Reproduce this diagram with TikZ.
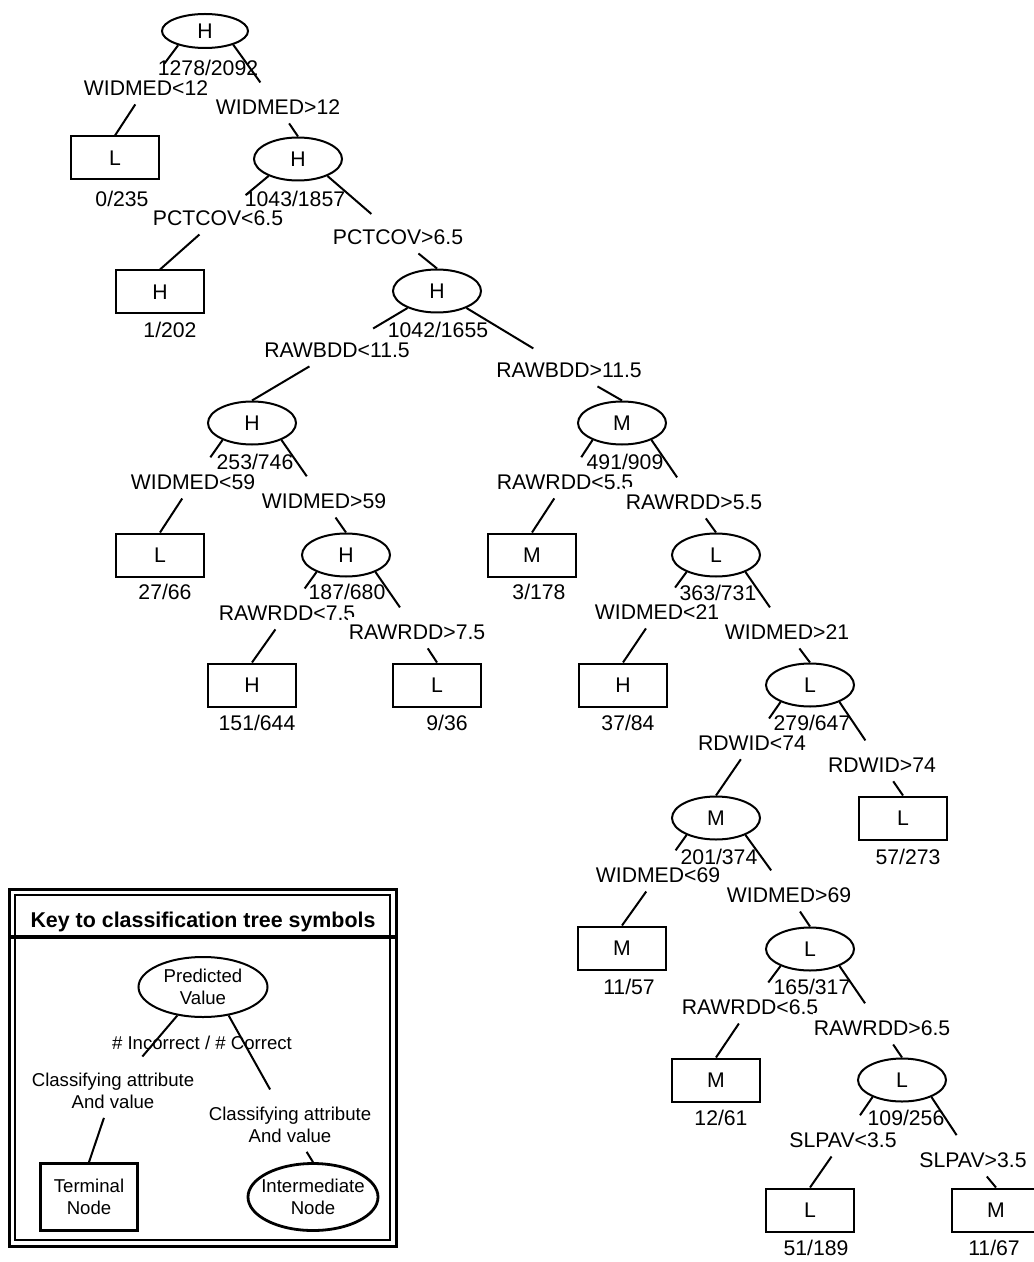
\documentclass[tikz,border=0pt]{standalone}
\usepackage{fontspec}
\setmainfont{Liberation Sans}
\usetikzlibrary{shapes.geometric}

\begin{document}
\begin{tikzpicture}[x=0.5pt,y=-0.5pt,line width=1pt,
  font=\fontsize{10.6}{12}\selectfont,
  keyfont/.style={font=\fontsize{9.3}{11}\selectfont},
  leafnode/.style={draw,minimum width=44pt,minimum height=21.5pt,inner sep=0pt},
  splitnode/.style={draw,ellipse,minimum width=44pt,minimum height=21.5pt,inner sep=0pt},
  cond/.style={fill=white,inner xsep=0.5pt,inner ysep=4pt},
  cnt/.style={inner sep=0pt},
  stub/.style={shorten >=5pt}]
\useasboundingbox (0,0) rectangle (1033,1262);
% tree nodes
\node[splitnode,minimum width=43pt,minimum height=17pt] (t0) at (205,31) {H};
\node[leafnode]  (t1)  at (115,158)  {L};
\node[splitnode] (t2)  at (298,159)  {H};
\node[leafnode]  (t3)  at (160,292)  {H};
\node[splitnode] (t4)  at (437,291)  {H};
\node[splitnode] (t5)  at (252,423)  {H};
\node[splitnode] (t6)  at (622,423)  {M};
\node[leafnode]  (t7)  at (160,555)  {L};
\node[splitnode] (t8)  at (346,555)  {H};
\node[leafnode]  (t9)  at (532,555)  {M};
\node[splitnode] (t10) at (716,555)  {L};
\node[leafnode]  (t11) at (252,685)  {H};
\node[leafnode]  (t12) at (437,685)  {L};
\node[leafnode]  (t13) at (623,685)  {H};
\node[splitnode] (t14) at (810,685)  {L};
\node[splitnode] (t15) at (716,818)  {M};
\node[leafnode]  (t16) at (903,818)  {L};
\node[leafnode]  (t17) at (622,948)  {M};
\node[splitnode] (t18) at (810,949)  {L};
\node[leafnode]  (t19) at (716,1080) {M};
\node[splitnode] (t20) at (902,1080) {L};
\node[leafnode]  (t21) at (810,1210) {L};
\node[leafnode]  (t22) at (996,1210) {M};
% split rules (right one drawn over left one)
\node[cond] (s0l)  at (146,88)   {WIDMED<12};
\node[cond] (s0r)  at (278,107)  {WIDMED>12};
\node[cond] (s2l)  at (218,218)  {PCTCOV<6.5};
\node[cond] (s2r)  at (398,237)  {PCTCOV>6.5};
\node[cond] (s4l)  at (337,350)  {RAWBDD<11.5};
\node[cond] (s4r)  at (569,370)  {RAWBDD>11.5};
\node[cond] (s5l)  at (193,482)  {WIDMED<59};
\node[cond] (s5r)  at (324,501)  {WIDMED>59};
\node[cond] (s6l)  at (565,482)  {RAWRDD<5.5};
\node[cond] (s6r)  at (694,502)  {RAWRDD>5.5};
\node[cond] (s8l)  at (287,613)  {RAWRDD<7.5};
\node[cond] (s8r)  at (417,632)  {RAWRDD>7.5};
\node[cond] (s10l) at (657,612)  {WIDMED<21};
\node[cond] (s10r) at (787,632)  {WIDMED>21};
\node[cond] (s14l) at (752,743)  {RDWID<74};
\node[cond] (s14r) at (882,765)  {RDWID>74};
\node[cond] (s15l) at (658,875)  {WIDMED<69};
\node[cond] (s15r) at (789,895)  {WIDMED>69};
\node[cond] (s18l) at (750,1007) {RAWRDD<6.5};
\node[cond] (s18r) at (882,1028) {RAWRDD>6.5};
\node[cond] (s20l) at (843,1140) {SLPAV<3.5};
\node[cond] (s20r) at (973,1160) {SLPAV>3.5};
% incorrect/correct counts
\node[cnt] (k0)  at (208,68)   {1278/2092};
\node[cnt] (k1)  at (122,199)  {0/235};
\node[cnt] (k2)  at (295,199)  {1043/1857};
\node[cnt] (k3)  at (170,330)  {1/202};
\node[cnt] (k4)  at (438,330)  {1042/1655};
\node[cnt] (k5)  at (255,462)  {253/746};
\node[cnt] (k6)  at (625,462)  {491/909};
\node[cnt] (k7)  at (165,592)  {27/66};
\node[cnt] (k8)  at (347,592)  {187/680};
\node[cnt] (k9)  at (539,592)  {3/178};
\node[cnt] (k10) at (718,593)  {363/731};
\node[cnt] (k11) at (257,723)  {151/644};
\node[cnt] (k12) at (447,723)  {9/36};
\node[cnt] (k13) at (628,723)  {37/84};
\node[cnt] (k14) at (812,723)  {279/647};
\node[cnt] (k15) at (719,857)  {201/374};
\node[cnt] (k16) at (908,857)  {57/273};
\node[cnt] (k17) at (629,987)  {11/57};
\node[cnt] (k18) at (812,987)  {165/317};
\node[cnt] (k19) at (721,1118) {12/61};
\node[cnt] (k20) at (906,1118) {109/256};
\node[cnt] (k21) at (816,1248) {51/189};
\node[cnt] (k22) at (994,1248) {11/67};
% branches: parent -> rule -> child
\draw[stub] (t0.-152) -- (s0l);  \draw[stub] (t0.-26) -- (s0r);
\draw (s0l) -- (t1.north);       \draw (s0r) -- (t2.north);
\draw[stub] (t2.-150) -- (s2l);  \draw[stub] (t2.-30) -- (s2r);
\draw (s2l) -- (t3.north);       \draw (s2r) -- (t4.north);
\draw[stub] (t4.-150) -- (s4l);  \draw[stub] (t4.-30) -- (s4r);
\draw (s4l) -- (t5.north);       \draw (s4r) -- (t6.north);
\draw[stub] (t5.-150) -- (s5l);  \draw[stub] (t5.-30) -- (s5r);
\draw (s5l) -- (t7.north);       \draw (s5r) -- (t8.north);
\draw[stub] (t6.-150) -- (s6l);  \draw[stub] (t6.-30) -- (s6r);
\draw (s6l) -- (t9.north);       \draw (s6r) -- (t10.north);
\draw[stub] (t8.-150) -- (s8l);  \draw[stub] (t8.-30) -- (s8r);
\draw (s8l) -- (t11.north);      \draw (s8r) -- (t12.north);
\draw[stub] (t10.-150) -- (s10l); \draw[stub] (t10.-30) -- (s10r);
\draw (s10l) -- (t13.north);     \draw (s10r) -- (t14.north);
\draw[stub] (t14.-150) -- (s14l); \draw[stub] (t14.-30) -- (s14r);
\draw (s14l) -- (t15.north);     \draw (s14r) -- (t16.north);
\draw[stub] (t15.-150) -- (s15l); \draw[stub] (t15.-30) -- (s15r);
\draw (s15l) -- (t17.north);     \draw (s15r) -- (t18.north);
\draw[stub] (t18.-150) -- (s18l); \draw[stub] (t18.-30) -- (s18r);
\draw (s18l) -- (t19.north);     \draw (s18r) -- (t20.north);
\draw[stub] (t20.-150) -- (s20l); \draw[stub] (t20.-30) -- (s20r);
\draw (s20l) -- (t21.north);     \draw (s20r) -- (t22.north);
% key box
\draw[line width=1.5pt] (9,889) rectangle (396,1246);
\draw[line width=0.8pt] (15,895) rectangle (390,1240);
\draw[line width=1.8pt] (9,937) -- (396,937);
\node[font=\bfseries\fontsize{10.7}{12}\selectfont] (keyhead) at (203,922) {Key to classification tree symbols};
\node[splitnode,keyfont,align=center,minimum width=64.5pt,minimum height=30pt] (pv) at (203,987) {Predicted\\Value};
\node[cnt,keyfont] (kc) at (202,1043) {\# Incorrect / \# Correct};
\node[cond,keyfont,align=center] (ka) at (113,1091) {Classifying attribute\\And value};
\node[cond,keyfont,align=center] (kb) at (290,1125) {Classifying attribute\\And value};
\node[leafnode,keyfont,align=center,line width=1.4pt,minimum width=48.5pt,minimum height=33.5pt] (term) at (89,1197) {Terminal\\Node};
\node[splitnode,keyfont,align=center,line width=1.4pt,minimum width=65pt,minimum height=33.5pt,inner xsep=-3pt] (imed) at (313,1197) {Intermediate\\Node};
\draw[stub] (pv.-132) -- (ka);   \draw[stub] (pv.-48) -- (kb);
\draw (ka) -- (term.north);      \draw (kb) -- (imed.north);
\end{tikzpicture}
\end{document}
